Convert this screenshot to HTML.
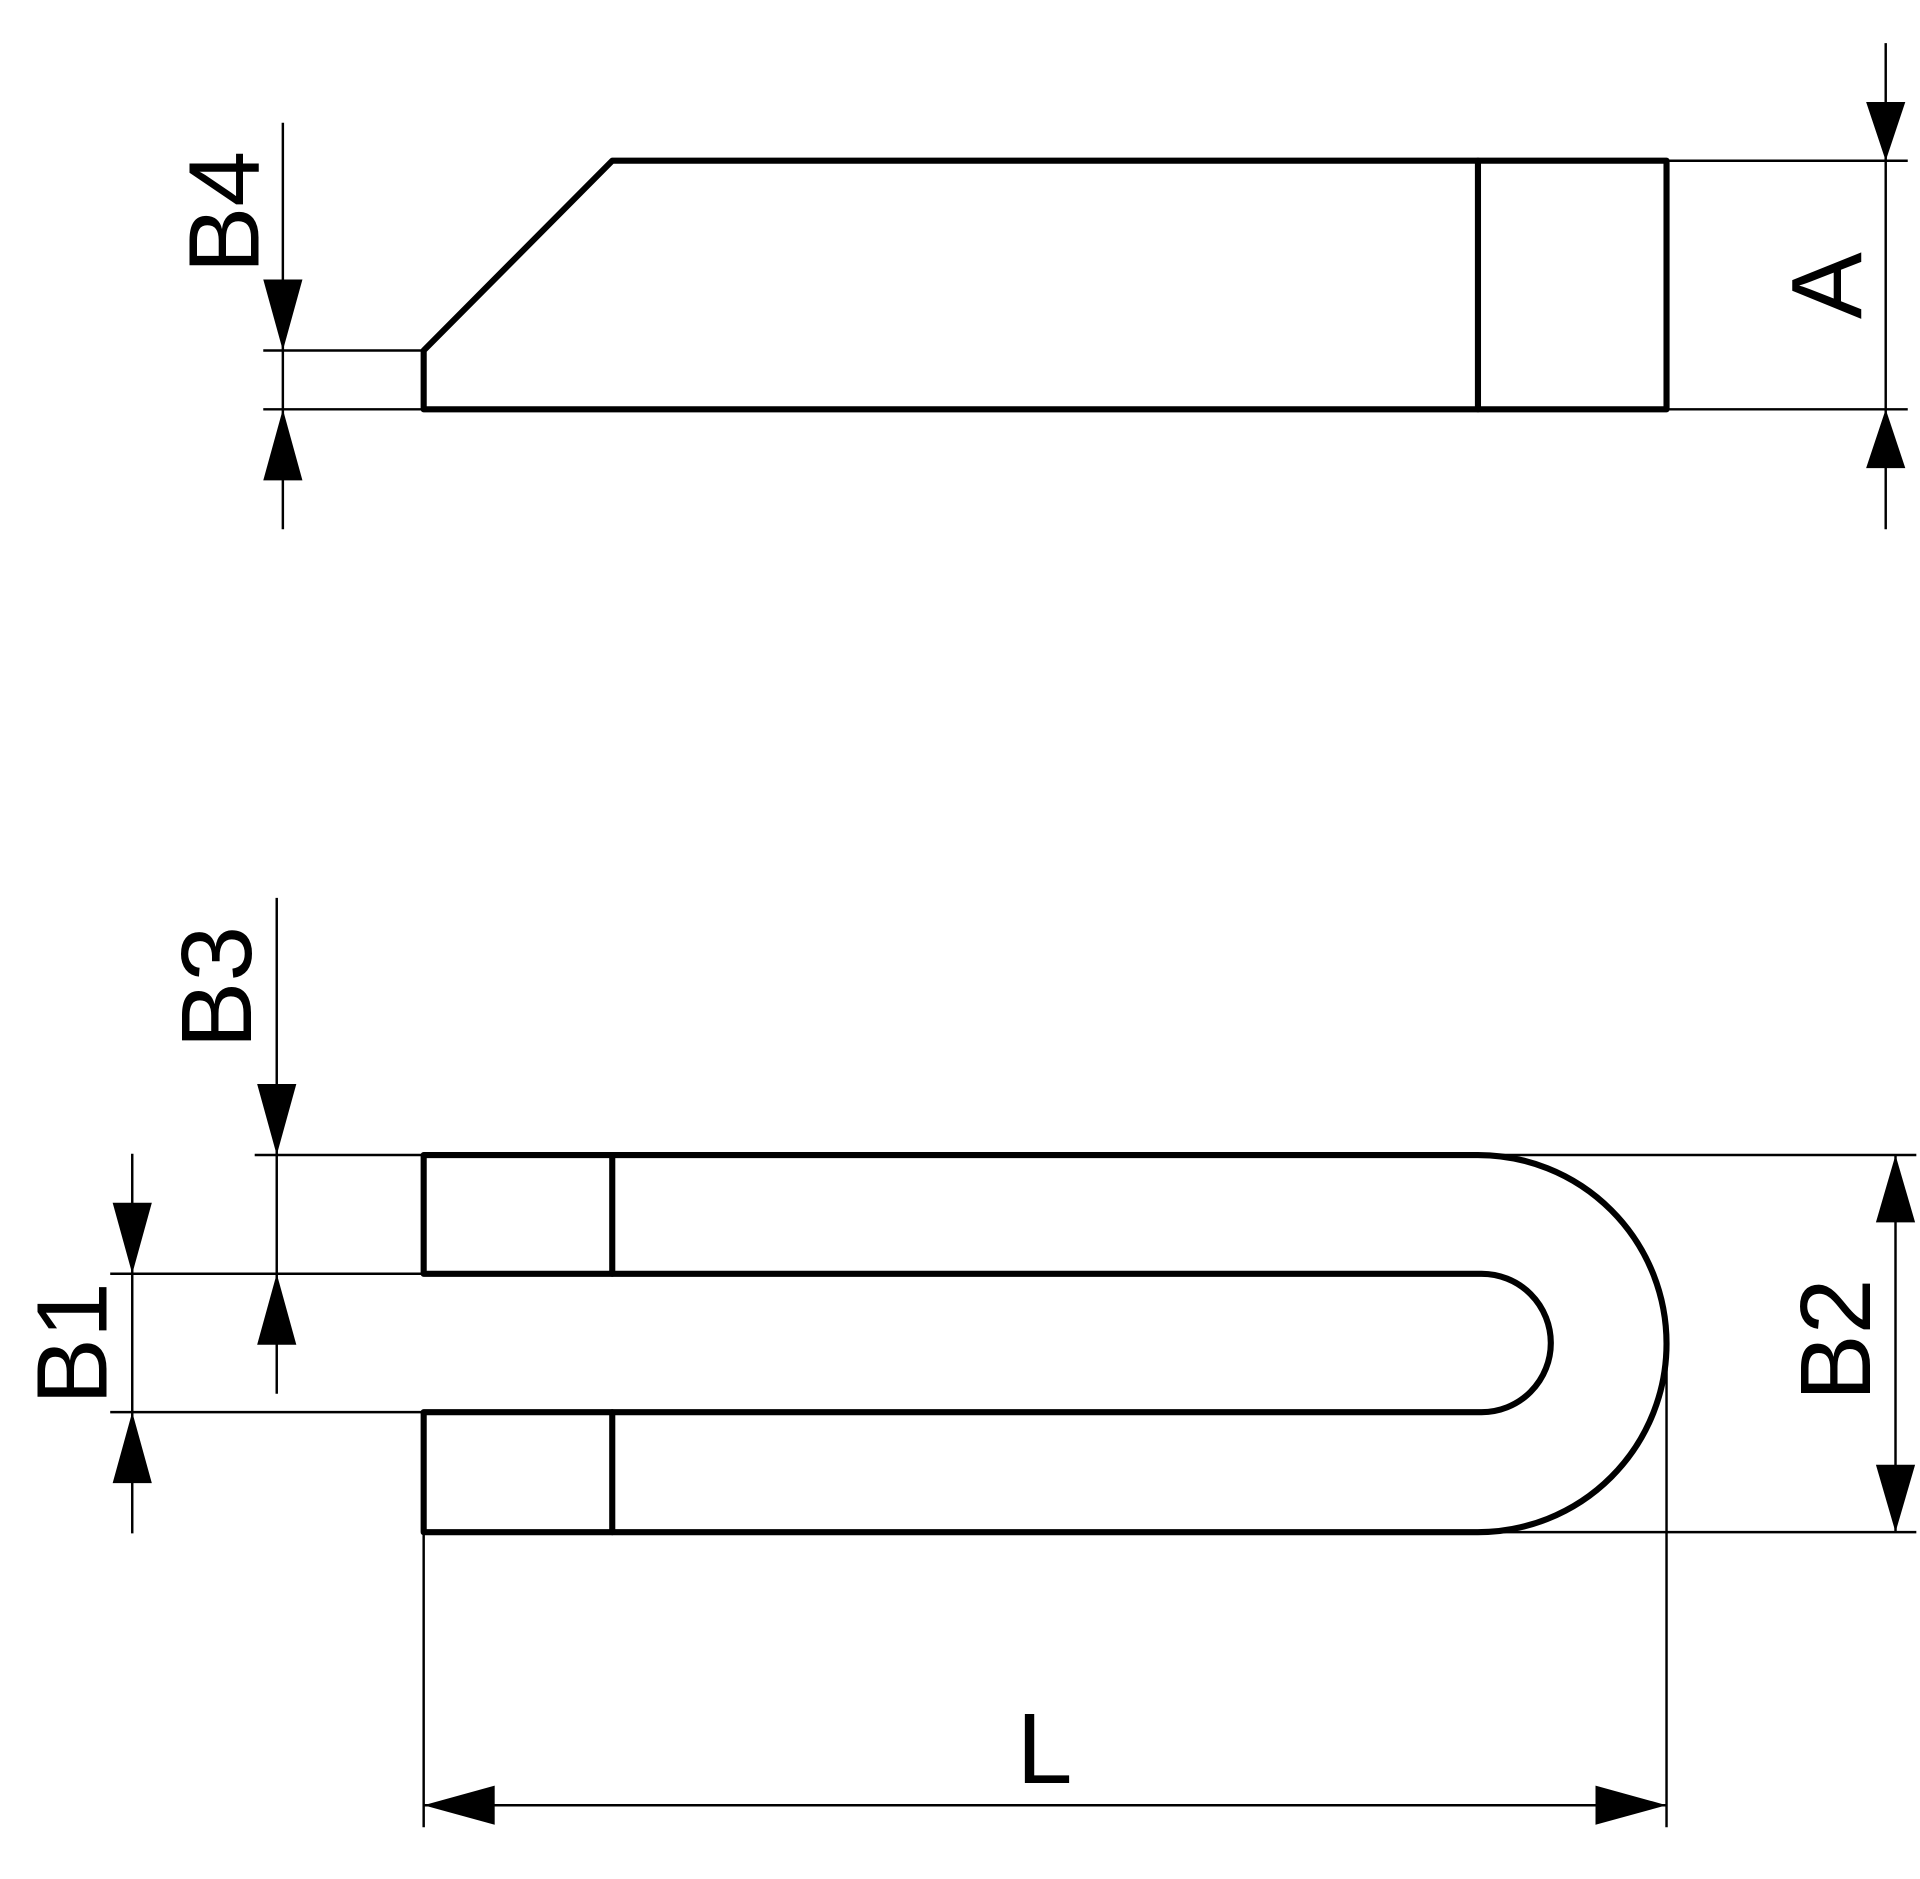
<!DOCTYPE html>
<html><head><meta charset="utf-8"><style>html,body{margin:0;padding:0;background:#fff}svg{display:block}</style></head>
<body>
<svg width="1920" height="1879" viewBox="0 0 1568 1534" xmlns="http://www.w3.org/2000/svg">
<g fill="none" stroke="#000" stroke-width="5" stroke-linejoin="round" stroke-linecap="round">
<polygon points="346,286 500,131 1361,131 1361,334 346,334"/>
<line x1="1207" y1="131" x2="1207" y2="334"/>
<path d="M346,943 H1207 A154,154 0 0 1 1207,1251 H346 V1153 H1210 A56.5,56.5 0 0 0 1210,1040 H346 Z"/>
<line x1="500" y1="943" x2="500" y2="1040"/>
<line x1="500" y1="1153" x2="500" y2="1251"/>
</g>
<g stroke="#000" stroke-width="2" fill="none">
<line x1="1361" y1="131" x2="1558" y2="131"/>
<line x1="1361" y1="334" x2="1558" y2="334"/>
<line x1="1540" y1="35" x2="1540" y2="432"/>
<line x1="215" y1="286" x2="346" y2="286"/>
<line x1="215" y1="334" x2="346" y2="334"/>
<line x1="231" y1="100" x2="231" y2="432"/>
<line x1="208" y1="943" x2="346" y2="943"/>
<line x1="90" y1="1040" x2="346" y2="1040"/>
<line x1="90" y1="1153" x2="346" y2="1153"/>
<line x1="226" y1="733" x2="226" y2="1138"/>
<line x1="108" y1="942" x2="108" y2="1252"/>
<line x1="1207" y1="943" x2="1565" y2="943"/>
<line x1="1207" y1="1251" x2="1565" y2="1251"/>
<line x1="1548" y1="943" x2="1548" y2="1251"/>
<line x1="346" y1="1251" x2="346" y2="1492"/>
<line x1="1361" y1="1097" x2="1361" y2="1492"/>
<line x1="346" y1="1474" x2="1361" y2="1474"/>
</g>
<g fill="#000">
<polygon points="1540,131 1524,83 1556,83"/>
<polygon points="1540,334 1524,382 1556,382"/>
<polygon points="231,286 215,228 247,228"/>
<polygon points="231,334 215,392 247,392"/>
<polygon points="226,943 210,885 242,885"/>
<polygon points="226,1040 210,1098 242,1098"/>
<polygon points="108,1040 92,982 124,982"/>
<polygon points="108,1153 92,1211 124,1211"/>
<polygon points="1548,943 1532,998 1564,998"/>
<polygon points="1548,1251 1532,1196 1564,1196"/>
<polygon points="346,1474 404,1458 404,1490"/>
<polygon points="1361,1474 1303,1458 1303,1490"/>
</g>
<g font-family="'Liberation Sans', sans-serif" font-size="82" fill="#000" text-anchor="middle">
<text transform="translate(1520,233) rotate(-90)">A</text>
<text transform="translate(211,173) rotate(-90)">B4</text>
<text transform="translate(205,806) rotate(-90)">B3</text>
<text transform="translate(87,1097) rotate(-90)">B1</text>
<text transform="translate(1527,1094) rotate(-90)">B2</text>
<text x="853" y="1456">L</text>
</g>
</svg>
</body></html>
